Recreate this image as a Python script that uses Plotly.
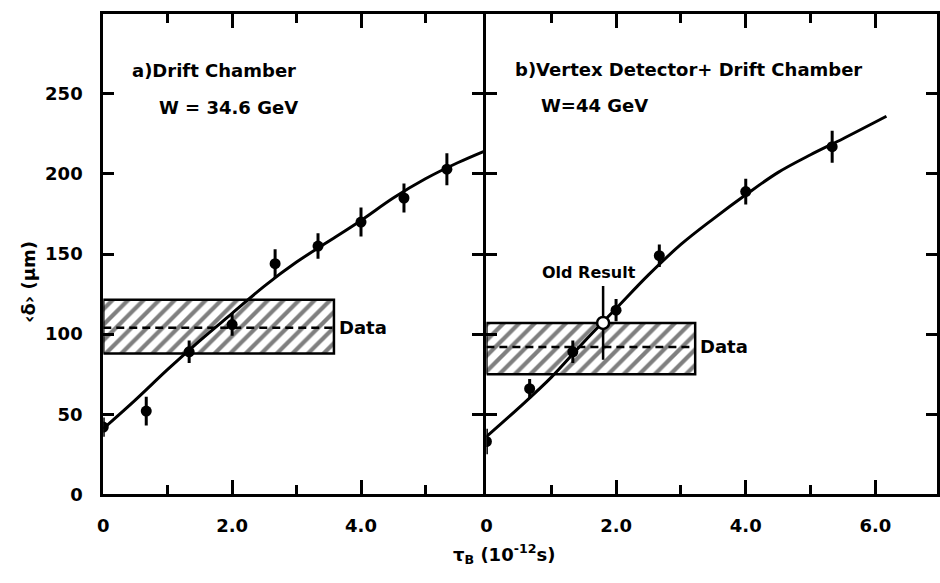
import plotly.graph_objects as go

# ---- panel a) Drift Chamber, W = 34.6 GeV ----
a_tau = [0.0, 0.667, 1.333, 2.0, 2.667, 3.333, 4.0, 4.667, 5.333]
a_delta = [42, 52, 89, 106, 144, 155, 170, 185, 203]
a_err = [6, 9, 7, 7, 9, 8, 9, 9, 10]
a_fit_tau = [0.0, 0.5, 1.0, 1.5, 2.0, 2.5, 3.0, 3.5, 4.0, 4.5, 5.0, 5.5, 5.9]
a_fit_delta = [41, 59, 78, 96, 113, 130, 145, 158, 171, 185, 197, 207, 214]
a_band = [88, 104, 121.5]   # low, central, high of measured <delta>
a_band_tau_max = 3.58

# ---- panel b) Vertex Detector + Drift Chamber, W = 44 GeV ----
b_tau = [0.0, 0.667, 1.333, 2.0, 2.667, 4.0, 5.333]
b_delta = [33, 66, 89, 115, 149, 189, 217]
b_err = [8, 6, 7, 7, 7, 8, 10]
b_fit_tau = [0.0, 0.5, 1.0, 1.5, 2.0, 2.5, 3.0, 3.5, 4.0, 4.5, 5.0, 5.5, 6.17]
b_fit_delta = [36, 54, 73, 95, 116, 137, 156, 172, 187, 201, 212, 222, 236]
b_band = [75, 92, 107]
b_band_tau_max = 3.22
old_tau = [1.80]
old_delta = [107]
old_err = [23]

y_ticks = [0, 50, 100, 150, 200, 250]
a_xticks = [0, 2, 4]
a_xtext = ["0", "2.0", "4.0"]
b_xticks = [0, 2, 4, 6]
b_xtext = ["0", "2.0", "4.0", "6.0"]

FONT = "DejaVu Sans"
INK = "black"

fig = go.Figure()


def add_panel(xa, ya, band, tmax, fit_t, fit_d, t, d, e):
    lo, mid, hi = band
    # hatched band showing the measured value
    fig.add_trace(go.Scatter(
        x=[0, tmax, tmax, 0, 0], y=[lo, lo, hi, hi, lo],
        xaxis=xa, yaxis=ya, mode="lines", fill="toself",
        fillcolor="white",
        fillpattern=dict(shape="/", size=11, solidity=0.38,
                         fgcolor=INK, bgcolor="white"),
        line=dict(color=INK, width=2.5), hoverinfo="skip"))
    fig.add_trace(go.Scatter(
        x=[0, tmax], y=[mid, mid], xaxis=xa, yaxis=ya, mode="lines",
        line=dict(color=INK, width=2.5, dash="8px,5px"), hoverinfo="skip"))
    # fitted curve
    fig.add_trace(go.Scatter(
        x=fit_t, y=fit_d, xaxis=xa, yaxis=ya, mode="lines",
        line=dict(color=INK, width=3, shape="spline", smoothing=1.0)))
    # Monte Carlo points
    fig.add_trace(go.Scatter(
        x=t, y=d, xaxis=xa, yaxis=ya, mode="markers",
        marker=dict(color=INK, size=11, symbol="circle"),
        error_y=dict(type="data", array=e, color=INK, thickness=3, width=0)))


add_panel("x", "y", a_band, a_band_tau_max, a_fit_tau, a_fit_delta,
          a_tau, a_delta, a_err)
add_panel("x2", "y2", b_band, b_band_tau_max, b_fit_tau, b_fit_delta,
          b_tau, b_delta, b_err)

# earlier measurement
fig.add_trace(go.Scatter(
    x=old_tau, y=old_delta, xaxis="x2", yaxis="y2", mode="markers",
    marker=dict(color="white", size=12, symbol="circle",
                line=dict(color=INK, width=2.5)),
    error_y=dict(type="data", array=old_err, color=INK, thickness=2.5, width=0)))

tickfont = dict(family=FONT, size=18, color=INK, weight="bold")
common_x = dict(showline=True, linecolor=INK, linewidth=3, mirror="ticks",
                ticks="inside", ticklen=14, tickwidth=3, tickcolor=INK,
                showgrid=False, zeroline=False, tickfont=tickfont,
                ticklabelstandoff=13,
                minor=dict(ticks="inside", dtick=1, tick0=0, ticklen=9,
                           tickwidth=3, tickcolor=INK, showgrid=False))
common_y = dict(showline=True, linecolor=INK, linewidth=3, mirror="ticks",
                ticks="inside", ticklen=11, tickwidth=3, tickcolor=INK,
                showgrid=False, zeroline=False, tickfont=tickfont,
                range=[0, 300], tickvals=y_ticks)

# the two panels share one dividing line
y_dom = [(583 - 503) / 583, (583 - 14) / 583]
fig.update_layout(
    width=940, height=583,
    margin=dict(l=0, r=0, t=0, b=0),
    paper_bgcolor="white", plot_bgcolor="white",
    showlegend=False,
    xaxis=dict(domain=[98 / 940, 481 / 940], range=[0, 5.9], anchor="y",
               tickvals=a_xticks, ticktext=a_xtext, **common_x),
    yaxis=dict(domain=y_dom, anchor="x", ticklabelstandoff=14, **common_y),
    xaxis2=dict(domain=[484 / 940, 938 / 940], range=[0, 6.95], anchor="y2",
                tickvals=b_xticks, ticktext=b_xtext, **common_x),
    yaxis2=dict(domain=y_dom, anchor="x2", showticklabels=False, **common_y),
)

lab = dict(family=FONT, size=18, color=INK, weight="bold")
notes = [
    dict(text="a)Drift Chamber", xref="x domain", yref="y domain",
         x=0.07, y=0.881, xanchor="left"),
    dict(text="W = 34.6 GeV", xref="x domain", yref="y domain",
         x=0.142, y=0.804, xanchor="left"),
    dict(text="b)Vertex Detector+ Drift Chamber", xref="x2 domain",
         yref="y2 domain", x=0.058, y=0.885, xanchor="left"),
    dict(text="W=44 GeV", xref="x2 domain", yref="y2 domain",
         x=0.117, y=0.81, xanchor="left"),
    dict(text="Data", xref="x", yref="y", x=a_band_tau_max, y=a_band[1],
         xanchor="left", xshift=3),
    dict(text="Data", xref="x2", yref="y2", x=b_band_tau_max, y=b_band[1],
         xanchor="left", xshift=3),
    dict(text="Old Result", xref="x2", yref="y2", x=old_tau[0],
         y=old_delta[0] + old_err[0], xanchor="center", yanchor="bottom",
         xshift=-14, yshift=2, font=dict(family=FONT, size=16, color=INK,
                                          weight="bold")),
    dict(text="\u2039\u03b4\u203a (\u03bcm)", xref="paper", yref="paper",
         x=22 / 940, y=(583 - 287) / 583, textangle=-90),
    dict(text="\u03c4<sub>B</sub> (10<sup>-12</sup>s)", xref="paper",
         yref="paper", x=502 / 940, y=(583 - 564) / 583),
]
for n in notes:
    n.setdefault("xanchor", "center")
    n.setdefault("yanchor", "middle")
    n.setdefault("font", lab)
    fig.add_annotation(showarrow=False, **n)

fig.write_html("out.html")
